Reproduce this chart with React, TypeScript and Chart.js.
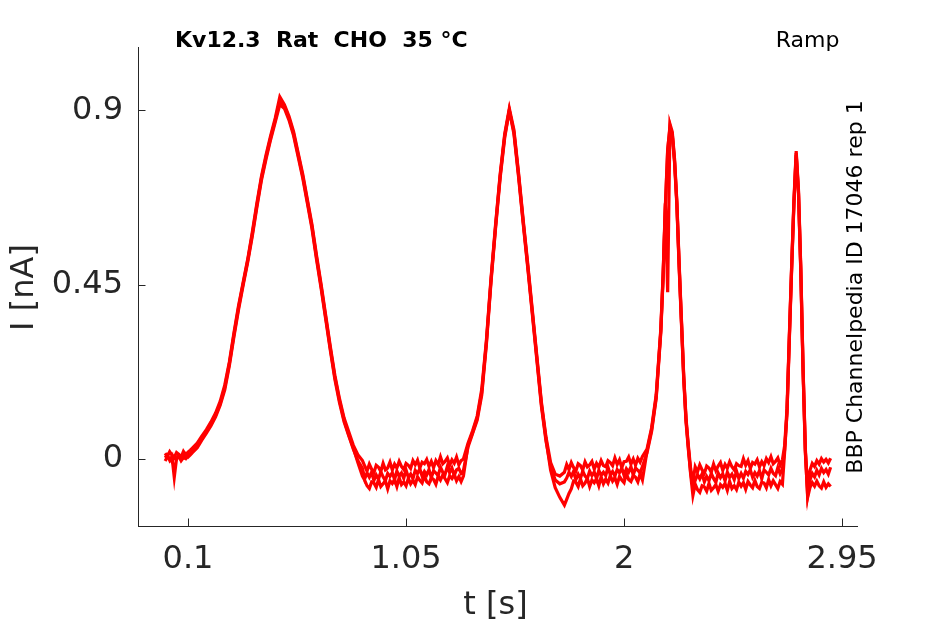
import React, { useEffect, useRef } from "react";
import { Chart, registerables } from "chart.js";

Chart.register(...registerables);

// time axis of the sweeps [s]
const T = [
  0, 0.01, 0.02, 0.03, 0.04, 0.05, 0.06, 0.07, 0.08, 0.09, 0.1, 0.11, 0.12,
  0.14, 0.16, 0.18, 0.2, 0.22, 0.24, 0.26, 0.28, 0.3, 0.32, 0.34, 0.36, 0.38, 0.4, 0.42, 0.44, 0.46, 0.48, 0.5,
  0.52, 0.54, 0.56, 0.58, 0.6, 0.62, 0.64, 0.66, 0.68, 0.7, 0.72, 0.74, 0.76, 0.78, 0.8, 0.82, 0.84, 0.86,
  0.87, 0.88, 0.89, 0.9, 0.91, 0.92, 0.93, 0.94, 0.95, 0.96, 0.97,
  0.98, 0.99, 1.0, 1.01, 1.02, 1.03, 1.04, 1.05, 1.06, 1.07, 1.08,
  1.09, 1.1, 1.11, 1.12, 1.13, 1.14, 1.15, 1.16, 1.17, 1.18, 1.19,
  1.2, 1.21, 1.22, 1.23, 1.24, 1.25, 1.26, 1.27, 1.28, 1.29, 1.3,
  1.32, 1.34, 1.36, 1.38, 1.4, 1.42, 1.44, 1.46, 1.48, 1.5,
  1.52, 1.54, 1.56, 1.58, 1.6, 1.62, 1.64, 1.66, 1.68, 1.7, 1.72, 1.74,
  1.75, 1.76, 1.77, 1.78, 1.79, 1.8, 1.81, 1.82, 1.83,
  1.84, 1.85, 1.86, 1.87, 1.88, 1.89, 1.9, 1.91,
  1.92, 1.93, 1.94, 1.95, 1.96, 1.97, 1.98, 1.99, 2.0,
  2.01, 2.02, 2.03, 2.04, 2.05, 2.06, 2.07, 2.08,
  2.1, 2.12, 2.14, 2.16, 2.17, 2.18, 2.19, 2.2,
  2.21, 2.22, 2.23, 2.24, 2.25, 2.26, 2.27, 2.28, 2.29, 2.3,
  2.31, 2.32, 2.33, 2.34, 2.35, 2.36, 2.37, 2.38, 2.39, 2.4,
  2.41, 2.42, 2.43, 2.44, 2.45, 2.46, 2.47, 2.48, 2.49, 2.5,
  2.51, 2.52, 2.53, 2.54, 2.55, 2.56, 2.57, 2.58, 2.59, 2.6,
  2.61, 2.62, 2.63, 2.64, 2.65, 2.66, 2.67, 2.68, 2.69,
  2.7, 2.71, 2.72, 2.73, 2.74, 2.75,
  2.76, 2.77, 2.78, 2.79, 2.8,
  2.81, 2.82, 2.83, 2.84, 2.85, 2.86, 2.87, 2.88, 2.89, 2.9,
];

// current of each sweep [nA]
const SWEEP_A = [
  0.014, 0.006, 0.018, 0.009, 0.003, 0.016, 0.011, 0.004, 0.019, 0.01, 0.017, 0.022, 0.028,
  0.04, 0.058, 0.075, 0.095, 0.118, 0.148, 0.19, 0.25, 0.325, 0.395, 0.455, 0.515, 0.585, 0.66, 0.73, 0.785, 0.835, 0.88, 0.935,
  0.915, 0.885, 0.845, 0.79, 0.735, 0.67, 0.605, 0.525, 0.45, 0.37, 0.29, 0.215, 0.155, 0.105, 0.07, 0.035, 0.01, -0.005,
  -0.019, -0.032, -0.014, -0.027, -0.036, -0.017, -0.022, -0.033, -0.012, -0.029, -0.024,
  -0.009, -0.029, -0.014, -0.024, -0.007, -0.02, -0.028, -0.012, -0.017, -0.025, -0.005,
  -0.016, -0.004, -0.024, -0.009, -0.013, -0.002, -0.02, -0.007, -0.023, -0.005, -0.015,
  0.005, -0.013, -0.007, 0.002, -0.017, -0.003, -0.012, 0.004, -0.016, -0.005, -0.001,
  0.04, 0.072, 0.11, 0.18, 0.305, 0.465, 0.605, 0.735, 0.84, 0.905,
  0.85, 0.74, 0.62, 0.505, 0.385, 0.265, 0.145, 0.055, -0.01, -0.04, -0.045, -0.035,
  -0.015, -0.028, -0.01, -0.023, -0.032, -0.013, -0.018, -0.029, -0.008,
  -0.021, -0.016, -0.007, -0.027, -0.012, -0.022, -0.005, -0.018,
  -0.021, -0.005, -0.01, -0.018, 0.002, -0.015, -0.003, -0.023, -0.008,
  -0.007, 0.004, -0.014, -0.001, -0.017, 0.001, -0.009, 0.006,
  0.025, 0.08, 0.165, 0.335, 0.475, 0.66, 0.43, 0.865,
  0.845, 0.775, 0.665, 0.505, 0.36, 0.215, 0.105, 0.035, -0.025, -0.06,
  -0.021, -0.034, -0.016, -0.029, -0.038, -0.019, -0.024, -0.035, -0.014, -0.031,
  -0.019, -0.01, -0.03, -0.015, -0.025, -0.008, -0.021, -0.029, -0.013, -0.018,
  -0.02, 0.0, -0.017, -0.005, -0.025, -0.01, -0.014, -0.003, -0.021, -0.008,
  -0.018, 0.0, -0.01, 0.005, -0.013, -0.007, 0.002, -0.017, -0.003,
  0.035, 0.13, 0.315, 0.495, 0.665, 0.795,
  0.695, 0.495, 0.235, 0.025, -0.08,
  -0.03, -0.012, -0.02, -0.005, -0.014, 0.0, -0.009, -0.002, -0.011, 0.001,
];

const SWEEP_B = [
  0.002, 0.009, -0.004, 0.006, -0.048, 0.001, 0.008, -0.003, 0.005, 0.012, 0.004, 0.01, 0.016,
  0.028, 0.048, 0.066, 0.085, 0.108, 0.138, 0.178, 0.24, 0.315, 0.385, 0.448, 0.508, 0.575, 0.65, 0.72, 0.775, 0.825, 0.87, 0.915,
  0.905, 0.875, 0.835, 0.78, 0.725, 0.66, 0.595, 0.515, 0.44, 0.36, 0.28, 0.205, 0.145, 0.095, 0.06, 0.025, -0.005, -0.025,
  -0.052, -0.037, -0.048, -0.035, -0.056, -0.042, -0.053, -0.034, -0.047, -0.057, -0.038,
  -0.046, -0.036, -0.054, -0.032, -0.045, -0.037, -0.051, -0.029, -0.048, -0.04, -0.052,
  -0.03, -0.038, -0.026, -0.045, -0.033, -0.042, -0.028, -0.049, -0.031, -0.037, -0.044,
  -0.022, -0.035, -0.041, -0.02, -0.036, -0.024, -0.043, -0.029, -0.025, -0.038, -0.031,
  0.03, 0.065, 0.1, 0.165, 0.295, 0.455, 0.595, 0.725, 0.83, 0.9,
  0.84, 0.73, 0.61, 0.495, 0.375, 0.255, 0.135, 0.045, -0.02, -0.055, -0.065, -0.06,
  -0.05, -0.035, -0.046, -0.033, -0.054, -0.04, -0.051, -0.032, -0.045,
  -0.051, -0.032, -0.044, -0.034, -0.052, -0.03, -0.043, -0.035,
  -0.044, -0.022, -0.041, -0.033, -0.045, -0.028, -0.036, -0.024, -0.043,
  -0.026, -0.035, -0.021, -0.042, -0.024, -0.03, -0.037, -0.02,
  0.015, 0.07, 0.155, 0.325, 0.465, 0.65, 0.795, 0.86,
  0.835, 0.765, 0.655, 0.495, 0.35, 0.205, 0.095, 0.025, -0.035, -0.075,
  -0.056, -0.041, -0.052, -0.039, -0.06, -0.046, -0.057, -0.038, -0.051, -0.061,
  -0.037, -0.049, -0.039, -0.057, -0.035, -0.048, -0.04, -0.054, -0.032, -0.051,
  -0.038, -0.05, -0.033, -0.041, -0.029, -0.048, -0.036, -0.045, -0.031, -0.052,
  -0.029, -0.035, -0.042, -0.025, -0.038, -0.044, -0.023, -0.039, -0.027,
  0.025, 0.12, 0.305, 0.485, 0.655, 0.785,
  0.685, 0.485, 0.225, 0.015, -0.095,
  -0.055, -0.038, -0.047, -0.03, -0.042, -0.025, -0.036, -0.028, -0.04, -0.022,
];

const SWEEP_C = [
  -0.006, 0.004, 0.0, -0.008, 0.005, -0.002, 0.007, -0.005, 0.003, 0.0, 0.009, 0.013, 0.02,
  0.034, 0.052, 0.07, 0.09, 0.112, 0.142, 0.184, 0.245, 0.32, 0.39, 0.452, 0.512, 0.58, 0.655, 0.725, 0.78, 0.83, 0.875, 0.925,
  0.91, 0.88, 0.84, 0.785, 0.73, 0.665, 0.6, 0.52, 0.445, 0.365, 0.285, 0.21, 0.15, 0.1, 0.062, 0.028, -0.01, -0.045,
  -0.056, -0.07, -0.077, -0.06, -0.063, -0.074, -0.054, -0.072, -0.065, -0.057, -0.078,
  -0.057, -0.064, -0.054, -0.072, -0.049, -0.067, -0.06, -0.07, -0.051, -0.065, -0.056,
  -0.067, -0.047, -0.056, -0.063, -0.044, -0.06, -0.065, -0.049, -0.054, -0.066, -0.045,
  -0.055, -0.042, -0.052, -0.062, -0.044, -0.051, -0.04, -0.057, -0.046, -0.059, -0.045,
  0.035, 0.068, 0.105, 0.172, 0.3, 0.46, 0.6, 0.73, 0.835, 0.9,
  0.845, 0.735, 0.615, 0.5, 0.38, 0.26, 0.14, 0.05, -0.03, -0.075, -0.1, -0.12,
  -0.105, -0.09, -0.078, -0.058, -0.061, -0.072, -0.052, -0.07, -0.063,
  -0.051, -0.072, -0.055, -0.062, -0.052, -0.07, -0.047, -0.065,
  -0.053, -0.063, -0.044, -0.058, -0.049, -0.066, -0.046, -0.055, -0.062,
  -0.038, -0.054, -0.059, -0.043, -0.048, -0.06, -0.039, -0.055,
  0.02, 0.075, 0.16, 0.33, 0.47, 0.655, 0.8, 0.855,
  0.84, 0.77, 0.66, 0.5, 0.355, 0.21, 0.1, 0.03, -0.04, -0.095,
  -0.066, -0.08, -0.087, -0.07, -0.073, -0.084, -0.064, -0.082, -0.075, -0.067,
  -0.084, -0.067, -0.074, -0.064, -0.082, -0.059, -0.077, -0.07, -0.08, -0.061,
  -0.071, -0.062, -0.079, -0.059, -0.068, -0.075, -0.056, -0.072, -0.077, -0.061,
  -0.063, -0.075, -0.054, -0.07, -0.057, -0.067, -0.077, -0.059, -0.066,
  0.02, 0.12, 0.31, 0.49, 0.66, 0.79,
  0.69, 0.49, 0.23, 0.02, -0.1,
  -0.075, -0.062, -0.071, -0.058, -0.07, -0.076, -0.06, -0.074, -0.065, -0.072,
];

const SWEEPS = [SWEEP_A, SWEEP_B, SWEEP_C];

const X_TICKS = [0.1, 1.05, 2, 2.95];
const X_LABELS = ["0.1", "1.05", "2", "2.95"];
const Y_TICKS = [0, 0.45, 0.9];
const Y_LABELS = ["0", "0.45", "0.9"];
const X_LIMITS = [-0.118, 3.015];
const Y_LIMITS = [-0.174, 1.064];

const TITLE = "Kv12.3  Rat  CHO  35 °C";
const PROTOCOL = "Ramp";
const SIDE_NOTE = "BBP Channelpedia ID 17046 rep 1";
const X_TITLE = "t [s]";
const Y_TITLE = "I [nA]";

const AXIS_COLOR = "#262626";
const LINE_COLOR = "#ff0000";
const FONT = '"DejaVu Sans", sans-serif';

const decorPlugin = {
  id: "decor",
  afterDraw(chart: any) {
    const { ctx, chartArea: ca, scales } = chart;
    ctx.save();
    // inward tick marks
    ctx.strokeStyle = AXIS_COLOR;
    ctx.lineWidth = 1;
    ctx.beginPath();
    X_TICKS.forEach((v) => {
      const x = Math.round(scales.x.getPixelForValue(v)) + 0.5;
      ctx.moveTo(x, ca.bottom);
      ctx.lineTo(x, ca.bottom - 7.5);
    });
    Y_TICKS.forEach((v) => {
      const y = Math.round(scales.y.getPixelForValue(v)) + 0.5;
      ctx.moveTo(ca.left, y);
      ctx.lineTo(ca.left + 7.5, y);
    });
    ctx.stroke();

    // title and annotations
    ctx.fillStyle = "#000000";
    ctx.textBaseline = "alphabetic";
    ctx.textAlign = "left";
    ctx.font = `bold 22px ${FONT}`;
    ctx.fillText(TITLE, ca.left + 37, 47);

    ctx.font = `22px ${FONT}`;
    ctx.textAlign = "right";
    ctx.fillText(PROTOCOL, ca.right - 17.5, 47);

    ctx.save();
    ctx.translate(ca.right + 5, (ca.top + ca.bottom) / 2 + 0.5);
    ctx.rotate(-Math.PI / 2);
    ctx.textAlign = "center";
    ctx.font = `22px ${FONT}`;
    ctx.fillText(SIDE_NOTE, 0, 0);
    ctx.restore();

    // axis titles
    ctx.fillStyle = AXIS_COLOR;
    ctx.font = `32px ${FONT}`;
    ctx.textAlign = "center";
    ctx.fillText(X_TITLE, (ca.left + ca.right) / 2 - 2, 614);

    ctx.save();
    ctx.translate(33, (ca.top + ca.bottom) / 2 + 1);
    ctx.rotate(-Math.PI / 2);
    ctx.textAlign = "center";
    ctx.fillText(Y_TITLE, 0, 0);
    ctx.restore();

    ctx.restore();
  },
};

export default function App() {
  const canvasRef = useRef<HTMLCanvasElement | null>(null);

  useEffect(() => {
    const canvas = canvasRef.current;
    if (!canvas) return;

    const datasets = SWEEPS.map((sweep, i) => ({
      label: `sweep ${i + 1}`,
      data: T.slice(0, Math.min(T.length, sweep.length)).map((t, j) => ({ x: t, y: sweep[j] })),
      borderColor: LINE_COLOR,
      backgroundColor: LINE_COLOR,
      borderWidth: 3.2,
      pointRadius: 0,
      tension: 0,
      fill: false,
    }));

    const tickFont = { family: FONT, size: 32 };

    const chart = new Chart(canvas, {
      type: "line",
      data: { datasets },
      options: {
        animation: false,
        responsive: false,
        maintainAspectRatio: false,
        events: [],
        layout: { padding: { top: 47, right: 88, left: 0, bottom: 0 } },
        plugins: {
          legend: { display: false },
          tooltip: { enabled: false },
          title: { display: false },
        },
        scales: {
          x: {
            type: "linear",
            min: X_LIMITS[0],
            max: X_LIMITS[1],
            grid: { display: false, drawTicks: false },
            border: { display: true, color: AXIS_COLOR, width: 1 },
            ticks: {
              color: AXIS_COLOR,
              font: tickFont,
              padding: 14,
              autoSkip: false,
              maxRotation: 0,
              minRotation: 0,
              callback: (v: any) => {
                const k = X_TICKS.findIndex((t) => Math.abs(t - Number(v)) < 1e-9);
                return k >= 0 ? X_LABELS[k] : "";
              },
            },
            afterBuildTicks: (s: any) => {
              s.ticks = X_TICKS.map((v) => ({ value: v }));
            },
            afterFit: (s: any) => {
              s.height = 98;
            },
          },
          y: {
            type: "linear",
            min: Y_LIMITS[0],
            max: Y_LIMITS[1],
            grid: { display: false, drawTicks: false },
            border: { display: true, color: AXIS_COLOR, width: 1 },
            ticks: {
              color: AXIS_COLOR,
              font: tickFont,
              padding: 15,
              autoSkip: false,
              callback: (v: any) => {
                const k = Y_TICKS.findIndex((t) => Math.abs(t - Number(v)) < 1e-9);
                return k >= 0 ? Y_LABELS[k] : "";
              },
            },
            afterBuildTicks: (s: any) => {
              s.ticks = Y_TICKS.map((v) => ({ value: v }));
            },
            afterFit: (s: any) => {
              s.width = 138;
            },
          },
        },
      },
      plugins: [decorPlugin],
    });

    return () => {
      chart.destroy();
    };
  }, []);

  return (
    <div style={{ position: "absolute", left: 0, top: 0, width: 945, height: 624, background: "#ffffff" }}>
      <canvas ref={canvasRef} width={945} height={624} style={{ display: "block", width: 945, height: 624 }} />
    </div>
  );
}
